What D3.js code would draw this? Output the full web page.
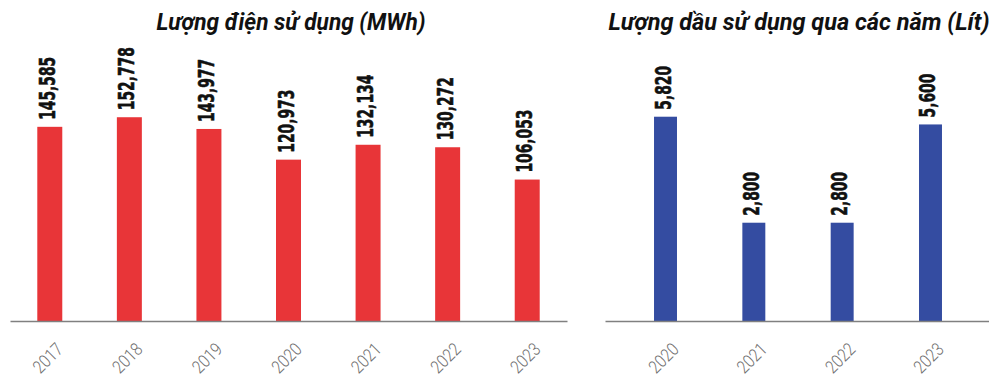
<!DOCTYPE html>
<html>
<head>
<meta charset="utf-8">
<script src="https://cdn.jsdelivr.net/npm/d3@7"></script>
<style>
body { margin: 0; background: #fff; }
svg { display: block; }
.title { font-family: Roboto, "Noto Sans", sans-serif; font-weight: 700; font-style: italic; font-size: 23.5px; fill: #111; }
.val { font-family: "DejaVu Sans Condensed", "DejaVu Sans", sans-serif; font-weight: 700; font-size: 22px; fill: #111; stroke: #111; stroke-width: 0.6px; }
.yr { font-family: Roboto, sans-serif; font-weight: 300; font-size: 18px; fill: #707070; }
</style>
</head>
<body>
<script>
// dien (MWh)
var elecYears = ['2017','2018','2019','2020','2021','2022','2023']
var elecValues = [145585, 152778, 143977, 120973, 132134, 130272, 106053]
// dau (Lit)
var oilYears = ['2020','2021','2022','2023']
var oilValues = [5820, 2800, 2800, 5600]

var W = 989, H = 378
var baseY = 321
var fmt = d3.format(',')

var svg = d3.select('body')
            .append('svg')
            .attr('width', W)
            .attr('height', H)

function drawChart(opts){
    var x = d3.scaleBand()
        .domain(opts.cats)
        .range(opts.xRange)
        .paddingInner(opts.padIn)
        .paddingOuter(opts.padOut)
    var y = d3.scaleLinear()
        .domain([0, opts.yMax])
        .range([baseY, baseY - opts.yPx])

    var g = svg.append('g')

    var t = g.append('text')
        .attr('class', 'title')
        .attr('x', opts.titleX)
        .attr('y', 30)
        .style('text-anchor', 'middle')
        .text(opts.title)
    if(opts.titleLen){
        t.attr('textLength', opts.titleLen).attr('lengthAdjust', 'spacingAndGlyphs')
    }

    g.selectAll('rect.bar')
        .data(opts.values)
        .enter()
        .append('rect')
        .attr('class', 'bar')
        .attr('x', function(d, i){ return x(opts.cats[i]) })
        .attr('width', x.bandwidth())
        .attr('y', function(d){ return y(d) })
        .attr('height', function(d){ return baseY - y(d) })
        .attr('fill', opts.color)

    // value labels, rotated
    g.selectAll('text.val')
        .data(opts.values)
        .enter()
        .append('text')
        .attr('class', 'val')
        .attr('transform', function(d, i){
            var cx = x(opts.cats[i]) + x.bandwidth() / 2
            return 'translate(' + (cx + 5) + ',' + (y(d) - 7) + ') rotate(-90) scale(0.7,1)'
        })
        .text(function(d){ return fmt(d) })

    // axis line
    var ax = d3.axisBottom(x).tickSize(0).tickFormat('')
    g.append('g')
        .attr('transform', 'translate(0,' + baseY + ')')
        .call(ax)
        .call(function(s){ s.select('.domain').attr('stroke', '#808080').attr('stroke-width', 1.5) })

    // year labels, slanted
    g.selectAll('text.yr')
        .data(opts.cats)
        .enter()
        .append('text')
        .attr('class', 'yr')
        .attr('transform', function(d){
            return 'translate(' + (x(d) + x.bandwidth() / 2 - 2) + ',358) rotate(-45) scale(0.85,1)'
        })
        .attr('dy', '0.35em')
        .style('text-anchor', 'middle')
        .text(function(d){ return d })
}

drawChart({
    cats: elecYears, values: elecValues,
    xRange: [10, 567], padIn: 0.686, padOut: 0.343,
    yMax: 160000, yPx: 213.4,
    color: '#E83538',
    title: 'Lượng điện sử dụng (MWh)', titleX: 291, titleLen: 269
})

drawChart({
    cats: oilYears, values: oilValues,
    xRange: [605, 991], padIn: 0.74, padOut: 0.555,
    yMax: 6000, yPx: 210.6,
    color: '#344CA1',
    title: 'Lượng dầu sử dụng qua các năm (Lít)', titleX: 799
})
</script>
</body>
</html>
